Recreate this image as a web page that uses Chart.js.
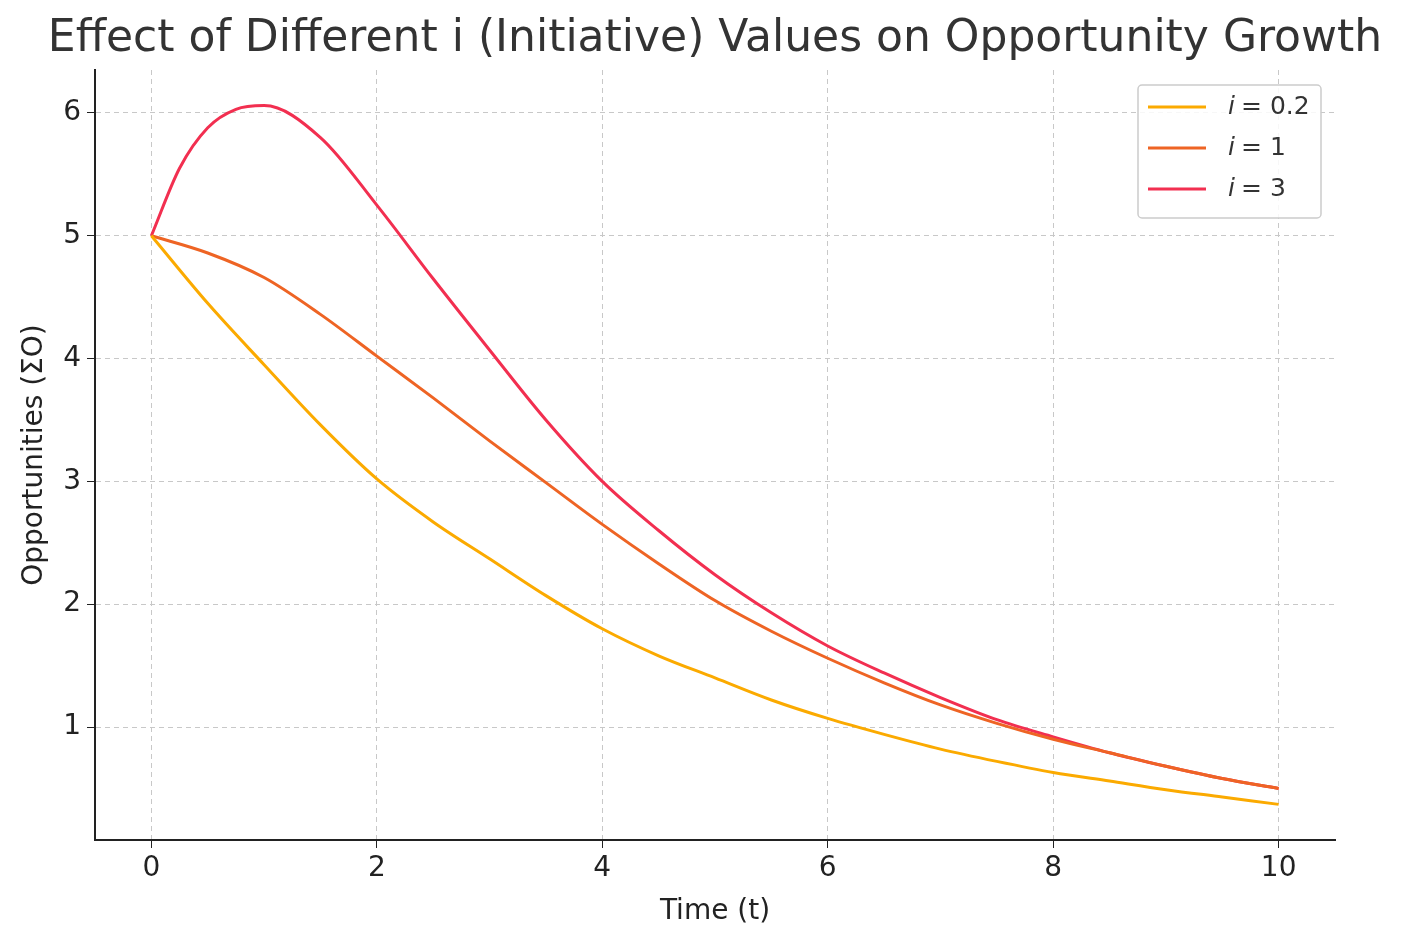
<!DOCTYPE html>
<html><head><meta charset="utf-8">
<script src="https://cdn.jsdelivr.net/npm/chart.js@4"></script>
<style>html,body{margin:0;padding:0;background:#fff}#w{width:1410px;height:947px}</style>
</head><body><div id="w"><canvas id="c"></canvas></div>
<script>
const t02 = [0,0.5,1,1.5,2,2.5,3,3.5,4,4.5,5,5.5,6,6.5,7,7.5,8,8.5,9,9.5,10];
const y02 = [5,4.45,3.95,3.46,3.02,2.67,2.37,2.07,1.8,1.58,1.4,1.22,1.07,0.94,0.82,0.72,0.63,0.56,0.49,0.43,0.37];
const t1 = [0,0.5,1,1.5,2,2.5,3,3.5,4,4.5,5,5.5,6,6.5,7,7.5,8,8.5,9,9.5,10];
const y1 = [5,4.86,4.66,4.36,4.02,3.68,3.33,2.99,2.65,2.33,2.03,1.78,1.56,1.36,1.18,1.03,0.9,0.79,0.68,0.58,0.5];
const t3 = [0,0.25,0.5,0.75,1,1.5,2,2.5,3,3.5,4,4.5,5,5.5,6,6.5,7,7.5,8,8.5,9,9.5,10];
const y3 = [5,5.55,5.88,6.03,6.06,5.8,5.25,4.65,4.07,3.5,3.0,2.6,2.24,1.93,1.66,1.44,1.24,1.06,0.92,0.79,0.68,0.58,0.5];
const labels = ['i = 0.2','i = 1','i = 3'];
const colors = ['#FBAA00','#EE6424','#F22F50'];
const xTicks = [0,2,4,6,8,10];
const yTicks = [1,2,3,4,5,6];
const pts = (xs, ys) => xs.map((x, k) => ({x, y: ys[k]}));
const font = 'DejaVu Sans';
const deco = {
  id:'deco',
  afterDraw(ch){
    const c = ch.ctx;
    c.save();
    c.fillStyle = '#333'; c.font = '44px "'+font+'"'; c.textAlign='center'; c.textBaseline='middle';
    c.fillText('Effect of Different i (Initiative) Values on Opportunity Growth', 715, 40);
    const bx = 1138, by = 85, bw = 183, bh = 133;
    c.fillStyle='rgba(255,255,255,0.85)'; c.strokeStyle='#ccc'; c.lineWidth=1.5;
    c.beginPath(); c.roundRect(bx,by,bw,bh,4); c.fill(); c.stroke();
    const parts = ['0.2','1','3'];
    for (let k=0;k<3;k++){
      const yy = by+22+k*41;
      c.strokeStyle=colors[k]; c.lineWidth=3;
      c.beginPath(); c.moveTo(bx+10,yy); c.lineTo(bx+68,yy); c.stroke();
      c.fillStyle='#333'; c.textAlign='left';
      c.font='italic 25px "'+font+'"'; c.fillText('i', bx+90, yy);
      c.font='25px "'+font+'"'; c.fillText('= '+parts[k], bx+103, yy);
    }
    c.restore();
  }
};
new Chart(document.getElementById('c'), {
  type:'line',
  data:{datasets:[
    {label:labels[0], data:pts(t02,y02), borderColor:colors[0]},
    {label:labels[1], data:pts(t1,y1), borderColor:colors[1]},
    {label:labels[2], data:pts(t3,y3), borderColor:colors[2]}
  ].map(d=>Object.assign(d,{borderWidth:3,pointRadius:0,cubicInterpolationMode:'monotone',fill:false}))},
  options:{
    responsive:true, maintainAspectRatio:false, animation:false, devicePixelRatio:1,
    layout:{padding:{top:70,right:75,left:0,bottom:0}},
    plugins:{legend:{display:false},tooltip:{enabled:false}},
    scales:{
      x:{type:'linear',min:-0.5,max:10.5,
        afterBuildTicks:s=>{s.ticks=xTicks.map(v=>({value:v}));},
        afterFit:s=>{s.height=107;},
        grid:{color:'#c8c8c8',lineWidth:1,tickLength:8,tickColor:'#222'},
        border:{display:true,color:'#222',width:2,dash:[5,4]},
        ticks:{color:'#222',font:{family:font,size:28},padding:4,maxRotation:0},
        title:{display:true,text:'Time (t)',color:'#222',font:{family:font,size:28},padding:{top:2,bottom:18}}},
      y:{type:'linear',min:0.08,max:6.35,
        afterBuildTicks:s=>{s.ticks=yTicks.map(v=>({value:v}));},
        afterFit:s=>{s.width=95;},
        grid:{color:'#c8c8c8',lineWidth:1,tickLength:8,tickColor:'#222'},
        border:{display:true,color:'#222',width:2,dash:[5,4]},
        ticks:{color:'#222',font:{family:font,size:28},padding:6},
        title:{display:true,text:'Opportunities (ΣO)',color:'#222',font:{family:font,size:28},padding:{top:18,bottom:6}}}
    }
  },
  plugins:[deco]
});
</script></body></html>
